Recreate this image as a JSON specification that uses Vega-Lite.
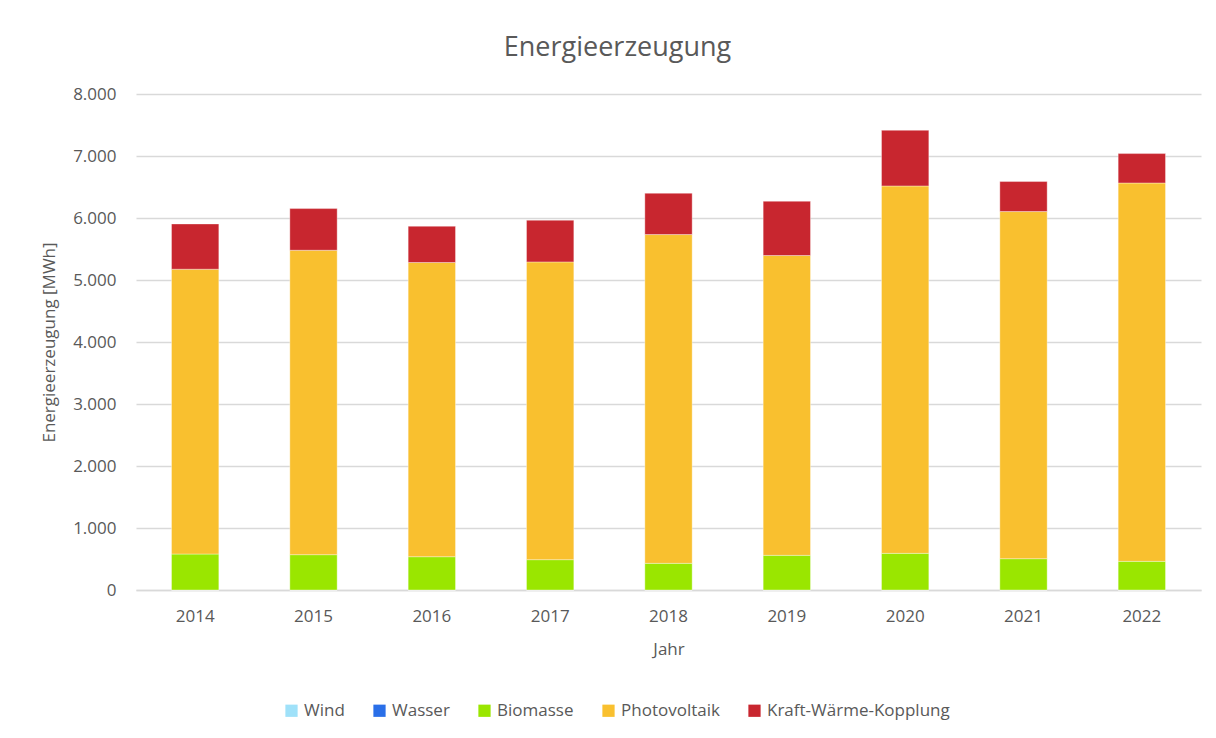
{
  "$schema": "https://vega.github.io/schema/vega-lite/v6.json",
  "width": 1065,
  "height": 496,
  "autosize": "none",
  "padding": {"left": 136, "top": 94, "right": 15, "bottom": 148},
  "background": "#ffffff",
  "title": {
    "text": "Energieerzeugung",
    "fontSize": 27,
    "font": "Open Sans",
    "fontWeight": 400,
    "color": "#595959",
    "anchor": "middle",
    "dx": -51,
    "offset": 23
  },
  "data": {
    "values": [
      {"Jahr": "2014", "Quelle": "Wind", "o": 1, "Wert": 0},
      {"Jahr": "2014", "Quelle": "Wasser", "o": 2, "Wert": 0},
      {"Jahr": "2014", "Quelle": "Biomasse", "o": 3, "Wert": 580},
      {"Jahr": "2014", "Quelle": "Photovoltaik", "o": 4, "Wert": 4594},
      {"Jahr": "2014", "Quelle": "Kraft-Wärme-Kopplung", "o": 5, "Wert": 730},
      {"Jahr": "2015", "Quelle": "Wind", "o": 1, "Wert": 0},
      {"Jahr": "2015", "Quelle": "Wasser", "o": 2, "Wert": 0},
      {"Jahr": "2015", "Quelle": "Biomasse", "o": 3, "Wert": 570},
      {"Jahr": "2015", "Quelle": "Photovoltaik", "o": 4, "Wert": 4910},
      {"Jahr": "2015", "Quelle": "Kraft-Wärme-Kopplung", "o": 5, "Wert": 672},
      {"Jahr": "2016", "Quelle": "Wind", "o": 1, "Wert": 0},
      {"Jahr": "2016", "Quelle": "Wasser", "o": 2, "Wert": 0},
      {"Jahr": "2016", "Quelle": "Biomasse", "o": 3, "Wert": 537},
      {"Jahr": "2016", "Quelle": "Photovoltaik", "o": 4, "Wert": 4745},
      {"Jahr": "2016", "Quelle": "Kraft-Wärme-Kopplung", "o": 5, "Wert": 585},
      {"Jahr": "2017", "Quelle": "Wind", "o": 1, "Wert": 0},
      {"Jahr": "2017", "Quelle": "Wasser", "o": 2, "Wert": 0},
      {"Jahr": "2017", "Quelle": "Biomasse", "o": 3, "Wert": 489},
      {"Jahr": "2017", "Quelle": "Photovoltaik", "o": 4, "Wert": 4803},
      {"Jahr": "2017", "Quelle": "Kraft-Wärme-Kopplung", "o": 5, "Wert": 672},
      {"Jahr": "2018", "Quelle": "Wind", "o": 1, "Wert": 0},
      {"Jahr": "2018", "Quelle": "Wasser", "o": 2, "Wert": 0},
      {"Jahr": "2018", "Quelle": "Biomasse", "o": 3, "Wert": 430},
      {"Jahr": "2018", "Quelle": "Photovoltaik", "o": 4, "Wert": 5303},
      {"Jahr": "2018", "Quelle": "Kraft-Wärme-Kopplung", "o": 5, "Wert": 666},
      {"Jahr": "2019", "Quelle": "Wind", "o": 1, "Wert": 0},
      {"Jahr": "2019", "Quelle": "Wasser", "o": 2, "Wert": 0},
      {"Jahr": "2019", "Quelle": "Biomasse", "o": 3, "Wert": 559},
      {"Jahr": "2019", "Quelle": "Photovoltaik", "o": 4, "Wert": 4836},
      {"Jahr": "2019", "Quelle": "Kraft-Wärme-Kopplung", "o": 5, "Wert": 875},
      {"Jahr": "2020", "Quelle": "Wind", "o": 1, "Wert": 0},
      {"Jahr": "2020", "Quelle": "Wasser", "o": 2, "Wert": 0},
      {"Jahr": "2020", "Quelle": "Biomasse", "o": 3, "Wert": 591},
      {"Jahr": "2020", "Quelle": "Photovoltaik", "o": 4, "Wert": 5926},
      {"Jahr": "2020", "Quelle": "Kraft-Wärme-Kopplung", "o": 5, "Wert": 898},
      {"Jahr": "2021", "Quelle": "Wind", "o": 1, "Wert": 0},
      {"Jahr": "2021", "Quelle": "Wasser", "o": 2, "Wert": 0},
      {"Jahr": "2021", "Quelle": "Biomasse", "o": 3, "Wert": 505},
      {"Jahr": "2021", "Quelle": "Photovoltaik", "o": 4, "Wert": 5599},
      {"Jahr": "2021", "Quelle": "Kraft-Wärme-Kopplung", "o": 5, "Wert": 484},
      {"Jahr": "2022", "Quelle": "Wind", "o": 1, "Wert": 0},
      {"Jahr": "2022", "Quelle": "Wasser", "o": 2, "Wert": 0},
      {"Jahr": "2022", "Quelle": "Biomasse", "o": 3, "Wert": 462},
      {"Jahr": "2022", "Quelle": "Photovoltaik", "o": 4, "Wert": 6103},
      {"Jahr": "2022", "Quelle": "Kraft-Wärme-Kopplung", "o": 5, "Wert": 474}
    ]
  },
  "mark": {"type": "bar", "stroke": "#ffffff", "strokeWidth": 0.6, "strokeOpacity": 0.6},
  "encoding": {
    "x": {
      "field": "Jahr",
      "type": "ordinal",
      "scale": {"paddingInner": 0.6, "paddingOuter": 0.3},
      "axis": {
        "title": "Jahr",
        "labelAngle": 0,
        "labelFontSize": 17,
        "labelColor": "#595959",
        "labelFont": "Open Sans",
        "labelPadding": 18,
        "ticks": false,
        "domainColor": "#d9d9d9",
        "domainWidth": 1.3,
        "titleFontSize": 17,
        "titleFont": "Open Sans",
        "titleFontWeight": 400,
        "titleColor": "#595959",
        "titlePadding": 17
      }
    },
    "y": {
      "field": "Wert",
      "type": "quantitative",
      "stack": "zero",
      "scale": {"domain": [0, 8000]},
      "axis": {
        "title": "Energieerzeugung [MWh]",
        "values": [0, 1000, 2000, 3000, 4000, 5000, 6000, 7000, 8000],
        "labelExpr": "replace(format(datum.value, ',.0f'), ',', '.')",
        "labelFontSize": 17,
        "labelColor": "#595959",
        "labelFont": "Open Sans",
        "labelPadding": 20,
        "ticks": false,
        "domain": false,
        "grid": true,
        "gridColor": "#d9d9d9",
        "gridWidth": 1.3,
        "titleFontSize": 17,
        "titleFont": "Open Sans",
        "titleFontWeight": 400,
        "titleColor": "#595959",
        "titlePadding": 14
      }
    },
    "color": {
      "field": "Quelle",
      "type": "nominal",
      "scale": {
        "domain": ["Wind", "Wasser", "Biomasse", "Photovoltaik", "Kraft-Wärme-Kopplung"],
        "range": ["#9fe1f9", "#2a6fe8", "#9ae600", "#f9c02f", "#c8262f"]
      },
      "legend": {
        "title": null,
        "orient": "none",
        "legendX": 147,
        "legendY": 608,
        "direction": "horizontal",
        "symbolType": "square",
        "symbolSize": 150,
        "symbolStrokeWidth": 0,
        "labelFontSize": 17,
        "labelLimit": 400,
        "labelFont": "Open Sans",
        "labelColor": "#595959",
        "labelOffset": 4,
        "columnPadding": 26
      }
    },
    "order": {"field": "o", "type": "quantitative"}
  },
  "config": {
    "view": {"stroke": null}
  }
}
